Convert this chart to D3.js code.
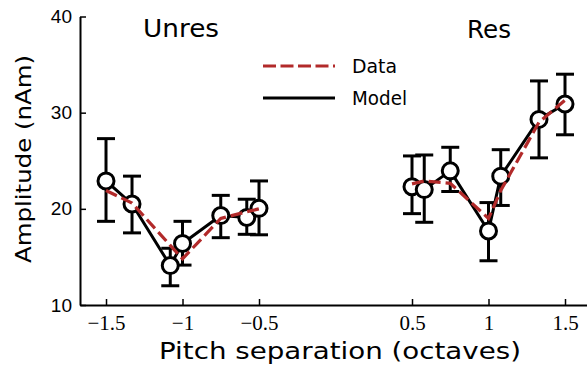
<!DOCTYPE html>
<html>
<head>
<meta charset="utf-8">
<script src="https://cdn.jsdelivr.net/npm/d3@7"></script>
<style>
  html, body { margin: 0; padding: 0; background: #fff; }
  svg { display: block; }
</style>
</head>
<body>
<svg id="chart" width="587" height="372"></svg>
<script>
// ---- data ----
const panelTitles = ["Unres", "Res"];
const xUnres = [-1.5, -1.33, -1.08, -1.0, -0.75, -0.58, -0.5];
const modelUnres = [22.9, 20.5, 14.1, 16.4, 19.3, 19.1, 20.05];
const errHiUnres = [27.3, 23.4, 15.9, 18.7, 21.4, 21.0, 22.9];
const errLoUnres = [18.7, 17.5, 12.0, 14.15, 17.0, 17.35, 17.3];
const dataUnres = [21.9, 20.6, 16.2, 14.8, 19.0, 19.7, 20.0];

const xRes = [0.5, 0.58, 0.75, 1.0, 1.08, 1.33, 1.5];
const modelRes = [22.3, 22.0, 23.95, 17.7, 23.4, 29.3, 30.9];
const errHiRes = [25.5, 25.6, 26.4, 20.65, 26.15, 33.3, 34.0];
const errLoRes = [19.5, 18.6, 21.8, 14.6, 20.35, 25.3, 27.7];
const dataRes = [22.6, 22.9, 22.65, 19.0, 21.9, 29.0, 31.3];

const xTicks = [-1.5, -1, -0.5, 0.5, 1, 1.5];
const yTicks = [10, 20, 30, 40];
const legendLabels = ["Data", "Model"];

// ---- drawing ----
const svg = d3.select("#chart");
const RED = "#b22a2a";
const sans = "'DejaVu Sans', sans-serif";

const x = d3.scaleLinear().domain([-1.67, 1.70]).range([80, 595.6]);
const y = d3.scaleLinear().domain([10, 40]).range([305, 16.5]);

// axes
const xAxis = d3.axisBottom(x).tickValues(xTicks).tickSizeInner(-6).tickSizeOuter(0).tickPadding(10)
  .tickFormat(d => (d < 0 ? "\u2212" : "") + Math.abs(d));
const gx = svg.append("g").attr("transform", `translate(0,${y(10)})`).call(xAxis);
gx.select(".domain").attr("stroke", "#000").attr("stroke-width", 2);
gx.selectAll(".tick line").attr("stroke", "#000").attr("stroke-width", 1.5);
gx.selectAll(".tick text").attr("font-family", "'Liberation Serif', serif").attr("font-size", 21).attr("fill", "#000");

const yAxis = d3.axisLeft(y).tickValues(yTicks).tickSizeInner(-6).tickSizeOuter(0).tickPadding(8);
const gy = svg.append("g").attr("transform", `translate(${x(-1.67)},0)`).call(yAxis);
gy.select(".domain").attr("stroke", "#000").attr("stroke-width", 2);
gy.selectAll(".tick line").attr("stroke", "#000").attr("stroke-width", 1.5);
gy.selectAll(".tick text").attr("font-family", "'Liberation Sans', sans-serif").attr("font-size", 19).attr("fill", "#000");

// axis titles
svg.append("text").attr("x", 340).attr("y", 359).attr("text-anchor", "middle")
  .attr("font-family", sans).attr("font-size", 23)
  .attr("textLength", 362).attr("lengthAdjust", "spacingAndGlyphs")
  .text("Pitch separation (octaves)");
svg.append("text").attr("transform", "translate(31,159) rotate(-90)").attr("text-anchor", "middle")
  .attr("font-family", sans).attr("font-size", 22)
  .attr("textLength", 208).attr("lengthAdjust", "spacingAndGlyphs")
  .text("Amplitude (nAm)");

// panel titles
svg.append("text").attr("x", 181).attr("y", 37).attr("text-anchor", "middle")
  .attr("font-family", sans).attr("font-size", 25)
  .attr("textLength", 76).attr("lengthAdjust", "spacingAndGlyphs").text(panelTitles[0]);
svg.append("text").attr("x", 489).attr("y", 38).attr("text-anchor", "middle")
  .attr("font-family", sans).attr("font-size", 25)
  .attr("textLength", 44).attr("lengthAdjust", "spacingAndGlyphs").text(panelTitles[1]);

// panels
const panels = [
  { xs: xUnres, model: modelUnres, hi: errHiUnres, lo: errLoUnres, data: dataUnres },
  { xs: xRes, model: modelRes, hi: errHiRes, lo: errLoRes, data: dataRes }
];
const line = d3.line().x(d => x(d[0])).y(d => y(d[1]));
const capW = 9;

panels.forEach(p => {
  const g = svg.append("g");
  // error bars
  p.xs.forEach((xv, i) => {
    const eg = g.append("g").attr("stroke", "#000").attr("stroke-width", 3).attr("fill", "none");
    eg.append("line").attr("x1", x(xv)).attr("x2", x(xv)).attr("y1", y(p.hi[i])).attr("y2", y(p.lo[i]));
    eg.append("line").attr("x1", x(xv) - capW).attr("x2", x(xv) + capW).attr("y1", y(p.hi[i])).attr("y2", y(p.hi[i]));
    eg.append("line").attr("x1", x(xv) - capW).attr("x2", x(xv) + capW).attr("y1", y(p.lo[i])).attr("y2", y(p.lo[i]));
  });
  // model line (black)
  g.append("path").datum(p.xs.map((xv, i) => [xv, p.model[i]])).attr("d", line)
    .attr("fill", "none").attr("stroke", "#000").attr("stroke-width", 3).attr("stroke-linejoin", "round");
  // circles
  g.selectAll("circle").data(p.xs.map((xv, i) => [xv, p.model[i]])).join("circle")
    .attr("cx", d => x(d[0])).attr("cy", d => y(d[1])).attr("r", 8)
    .attr("fill", "#fff").attr("stroke", "#000").attr("stroke-width", 3);
  // data line (red dashed)
  g.append("path").datum(p.xs.map((xv, i) => [xv, p.data[i]])).attr("d", line)
    .attr("fill", "none").attr("stroke", RED).attr("stroke-width", 3.2)
    .attr("stroke-dasharray", "12,5");
});

// legend
const lg = svg.append("g");
lg.append("line").attr("x1", 263).attr("x2", 335).attr("y1", 66).attr("y2", 66)
  .attr("stroke", RED).attr("stroke-width", 3.2).attr("stroke-dasharray", "13,4.5");
lg.append("line").attr("x1", 263).attr("x2", 335).attr("y1", 98).attr("y2", 98)
  .attr("stroke", "#000").attr("stroke-width", 3.2);
lg.append("text").attr("x", 352).attr("y", 73).attr("font-family", sans).attr("font-size", 19)
  .attr("textLength", 45).attr("lengthAdjust", "spacingAndGlyphs").text(legendLabels[0]);
lg.append("text").attr("x", 352).attr("y", 105).attr("font-family", sans).attr("font-size", 19)
  .attr("textLength", 55).attr("lengthAdjust", "spacingAndGlyphs").text(legendLabels[1]);
</script>
</body>
</html>
